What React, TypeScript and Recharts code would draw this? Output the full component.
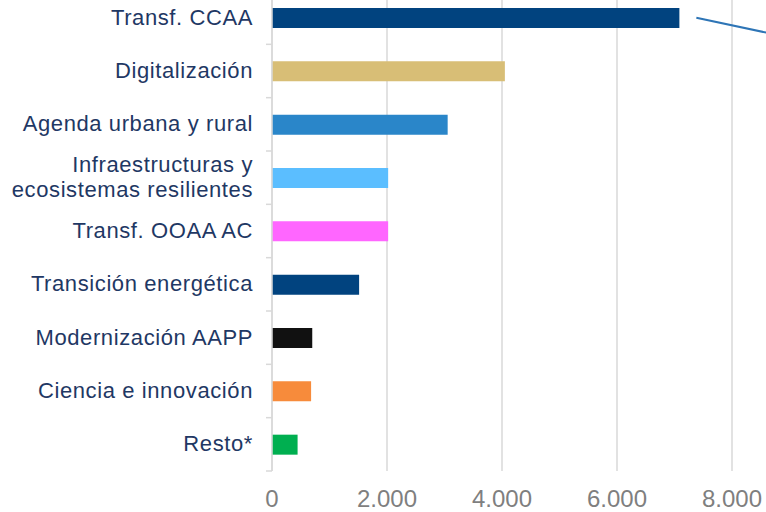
import React from "react";
import { Bar, BarChart, CartesianGrid, Cell, ReferenceLine, XAxis, YAxis } from "recharts";

const categories = [
  "Transf. CCAA",
  "Digitalización",
  "Agenda urbana y rural",
  "Infraestructuras y\necosistemas resilientes",
  "Transf. OOAA AC",
  "Transición energética",
  "Modernización AAPP",
  "Ciencia e innovación",
  "Resto*",
];
const amounts = [7085, 4050, 3055, 2020, 2020, 1515, 700, 680, 445];
const barColors = [
  "#01437F", "#D8BE76", "#2A86C9", "#5BBEFF", "#FF66FF",
  "#01437F", "#111111", "#F78B3B", "#00AF50",
];
const xTicks = [0, 2000, 4000, 6000, 8000];
// callout line leaving the top bar towards the right edge
const calloutStart = 7380;
const calloutEnd = 8600;
const CALLOUT_DROP = 15;

const data = categories.map((name, i) => ({ name, value: amounts[i] }));

const AXIS_X = 272;
const BAND = 480 / categories.length;

const fmt = (v: number) => String(v).replace(/\B(?=(\d{3})+(?!\d))/g, ".");

function CategoryTick(props: any) {
  const { y, payload } = props;
  const lines = String(payload.value).split("\n");
  const start = y + 7 - ((lines.length - 1) * 25) / 2;
  return (
    <g>
      <line x1={AXIS_X - 6} x2={AXIS_X} y1={y + BAND / 2} y2={y + BAND / 2} stroke="#D9D9D9" strokeWidth={1.5} />
      <text
        textAnchor="end"
        fill="#1F3864"
        fontSize={22}
        letterSpacing={0.6}
        fontFamily="'Liberation Sans', Arial, sans-serif"
      >
        {lines.map((l, i) => (
          <tspan key={i} x={AXIS_X - 19} y={start + i * 25}>
            {l}
          </tspan>
        ))}
      </text>
    </g>
  );
}

function CalloutLine(p: any) {
  return (
    <line x1={p.x1} y1={p.y1} x2={p.x2} y2={p.y2 + CALLOUT_DROP} stroke="#2E75B6" strokeWidth={2} />
  );
}

export default function App() {
  return (
    <div style={{ width: 766, height: 512, overflow: "hidden", position: "relative" }}>
      <style>{`body{margin:0}`}</style>
      <div style={{ position: "absolute", top: -9, left: 0 }}>
        <BarChart
          layout="vertical"
          width={766}
          height={522}
          data={data}
          margin={{ top: 0, right: 34, left: 0, bottom: 12 }}
        >
          <CartesianGrid horizontal={false} stroke="#D9D9D9" strokeWidth={1.5} />
          <XAxis
            type="number"
            domain={[0, 8000]}
            ticks={xTicks}
            tickFormatter={fmt}
            axisLine={false}
            tickLine={false}
            height={30}
            tickMargin={13}
            tick={{ fill: "#7F7F7F", fontSize: 24, fontFamily: "'Liberation Sans', Arial, sans-serif" }}
          />
          <YAxis
            type="category"
            dataKey="name"
            width={AXIS_X}
            axisLine={{ stroke: "#D9D9D9", strokeWidth: 1.5 }}
            tickLine={false}
            tick={<CategoryTick />}
            interval={0}
          />
          <Bar dataKey="value" barSize={20} isAnimationActive={false}>
            {data.map((d, i) => (
              <Cell key={d.name} fill={barColors[i]} />
            ))}
          </Bar>
          <ReferenceLine
            segment={[
              { x: calloutStart, y: categories[0] },
              { x: calloutEnd, y: categories[0] },
            ]}
            shape={CalloutLine}
            ifOverflow="visible"
          />
        </BarChart>
      </div>
    </div>
  );
}
